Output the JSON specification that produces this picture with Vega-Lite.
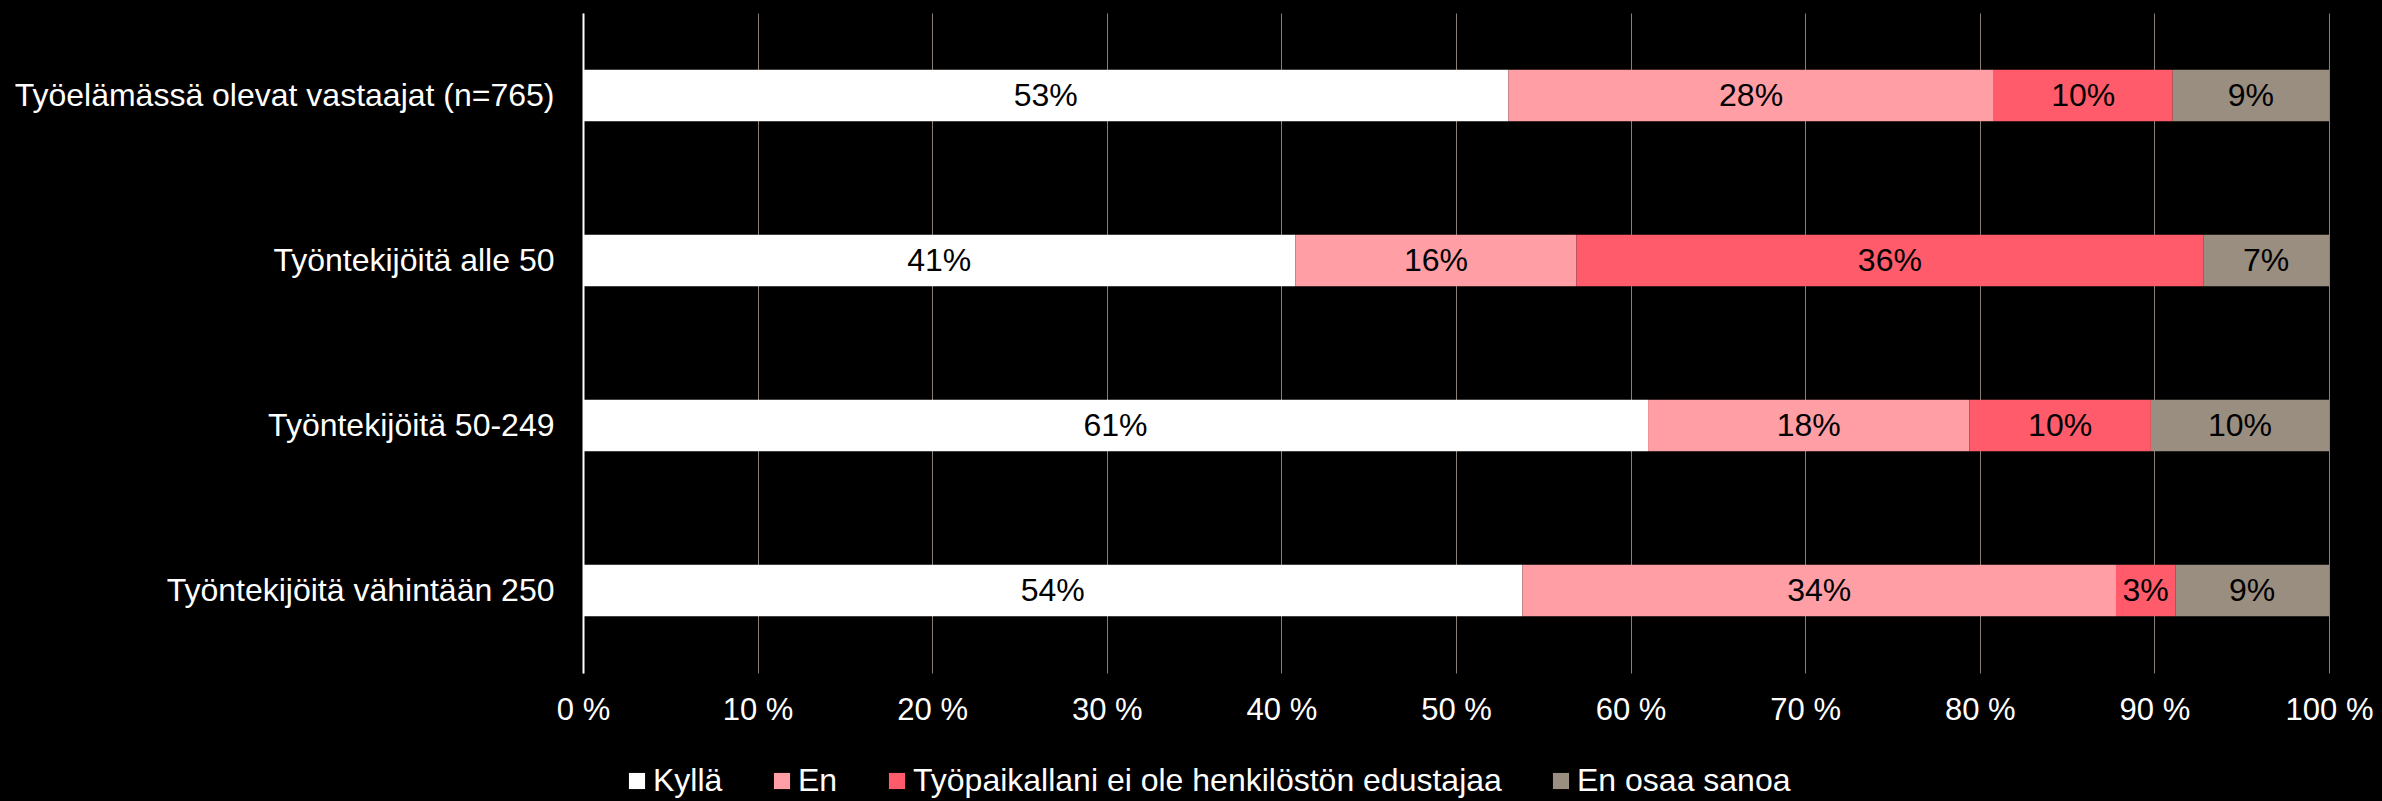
{
  "$schema": "https://vega.github.io/schema/vega-lite/v6.json",
  "width": 1746,
  "height": 660,
  "autosize": {"type": "none"},
  "padding": {"left": 583, "top": 13, "right": 53, "bottom": 128},
  "background": "#000000",
  "config": {
    "view": {"stroke": null},
    "font": "Liberation Sans"
  },
  "data": {
    "values": [
      {"ryhma": "Työelämässä olevat vastaajat (n=765)", "vastaus": "Kyllä", "k": 1, "arvo": 53.0, "teksti": "53%"},
      {"ryhma": "Työelämässä olevat vastaajat (n=765)", "vastaus": "En", "k": 2, "arvo": 27.8, "teksti": "28%"},
      {"ryhma": "Työelämässä olevat vastaajat (n=765)", "vastaus": "Työpaikallani ei ole henkilöstön edustajaa", "k": 3, "arvo": 10.25, "teksti": "10%"},
      {"ryhma": "Työelämässä olevat vastaajat (n=765)", "vastaus": "En osaa sanoa", "k": 4, "arvo": 8.95, "teksti": "9%"},
      {"ryhma": "Työntekijöitä alle 50", "vastaus": "Kyllä", "k": 1, "arvo": 40.8, "teksti": "41%"},
      {"ryhma": "Työntekijöitä alle 50", "vastaus": "En", "k": 2, "arvo": 16.1, "teksti": "16%"},
      {"ryhma": "Työntekijöitä alle 50", "vastaus": "Työpaikallani ei ole henkilöstön edustajaa", "k": 3, "arvo": 35.9, "teksti": "36%"},
      {"ryhma": "Työntekijöitä alle 50", "vastaus": "En osaa sanoa", "k": 4, "arvo": 7.2, "teksti": "7%"},
      {"ryhma": "Työntekijöitä 50-249", "vastaus": "Kyllä", "k": 1, "arvo": 61.0, "teksti": "61%"},
      {"ryhma": "Työntekijöitä 50-249", "vastaus": "En", "k": 2, "arvo": 18.4, "teksti": "18%"},
      {"ryhma": "Työntekijöitä 50-249", "vastaus": "Työpaikallani ei ole henkilöstön edustajaa", "k": 3, "arvo": 10.4, "teksti": "10%"},
      {"ryhma": "Työntekijöitä 50-249", "vastaus": "En osaa sanoa", "k": 4, "arvo": 10.2, "teksti": "10%"},
      {"ryhma": "Työntekijöitä vähintään 250", "vastaus": "Kyllä", "k": 1, "arvo": 53.8, "teksti": "54%"},
      {"ryhma": "Työntekijöitä vähintään 250", "vastaus": "En", "k": 2, "arvo": 34.0, "teksti": "34%"},
      {"ryhma": "Työntekijöitä vähintään 250", "vastaus": "Työpaikallani ei ole henkilöstön edustajaa", "k": 3, "arvo": 3.4, "teksti": "3%"},
      {"ryhma": "Työntekijöitä vähintään 250", "vastaus": "En osaa sanoa", "k": 4, "arvo": 8.8, "teksti": "9%"}
    ]
  },
  "encoding": {
    "y": {
      "field": "ryhma",
      "type": "nominal",
      "sort": null,
      "title": null,
      "scale": {"paddingInner": 0.688, "paddingOuter": 0.344},
      "axis": {
        "ticks": false,
        "domain": true,
        "domainColor": "#ffffff",
        "domainWidth": 2,
        "labelColor": "#ffffff",
        "labelFontSize": 32,
        "labelPadding": 29,
        "labelLimit": 700,
        "grid": false
      }
    },
    "x": {
      "field": "arvo",
      "type": "quantitative",
      "stack": "zero",
      "title": null,
      "scale": {"domain": [0, 100], "nice": false},
      "axis": {
        "values": [0, 10, 20, 30, 40, 50, 60, 70, 80, 90, 100],
        "labelExpr": "datum.value + ' %'",
        "domain": false,
        "ticks": false,
        "grid": true,
        "gridColor": "#8a7f76",
        "gridWidth": 1,
        "labelColor": "#ffffff",
        "labelFontSize": 31,
        "labelPadding": 22,
        "labelFlush": false
      }
    },
    "order": {"field": "k", "type": "quantitative"}
  },
  "layer": [
    {
      "mark": {"type": "bar"},
      "encoding": {
        "color": {
          "field": "vastaus",
          "type": "nominal",
          "scale": {
            "domain": ["Kyllä", "En", "Työpaikallani ei ole henkilöstön edustajaa", "En osaa sanoa"],
            "range": ["#ffffff", "#ff9ea5", "#ff5b6a", "#9a8e80"]
          },
          "legend": {
            "title": null,
            "orient": "none",
            "direction": "horizontal",
            "legendX": 38,
            "legendY": 752,
            "symbolType": "square",
            "symbolSize": 260,
            "symbolStrokeWidth": 0,
            "labelColor": "#ffffff",
            "labelFontSize": 32,
            "labelOffset": 0,
            "columnPadding": 43,
            "labelLimit": 800
          }
        }
      }
    },
    {
      "mark": {"type": "text", "color": "#000000", "fontSize": 32, "baseline": "middle", "align": "center"},
      "encoding": {
        "x": {"field": "arvo", "type": "quantitative", "stack": "zero", "bandPosition": 0.5},
        "text": {"field": "teksti"}
      }
    }
  ]
}
